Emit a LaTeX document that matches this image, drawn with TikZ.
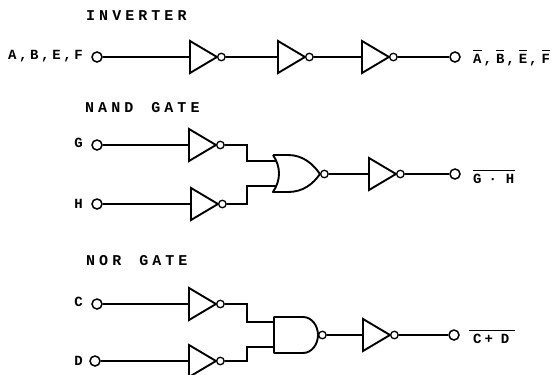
\documentclass[tikz,border=0pt]{standalone}
\usepackage{fontspec}
\usetikzlibrary{shapes.geometric,positioning}
\newfontfamily\titlefont[LetterSpace=27]{Liberation Mono}
\newfontfamily\labelfont[LetterSpace=19]{Liberation Mono}
\newcommand{\barred}[1]{\leavevmode\vbox{\hrule height 1pt\kern 3pt\hbox{#1}}}
\tikzset{
  wire/.style={line width=1.2pt},
  gateline/.style={line width=1.9pt,line join=round},
  notgate/.style={draw,line width=1.9pt,isosceles triangle,isosceles triangle stretches,shape border rotate=0,minimum height=27pt,minimum width=32pt,inner sep=0pt,outer sep=0pt,anchor=lower side},
  bubble/.style={circle,draw,line width=1.3pt,fill=white,inner sep=0pt,minimum size=7.5pt,anchor=west},
  terminal/.style={circle,draw,line width=1.5pt,inner sep=0pt,minimum size=10pt},
  title/.style={font=\titlefont\bfseries\fontsize{15}{15}\selectfont,anchor=west,inner sep=0pt},
  pinlabel/.style={font=\labelfont\bfseries\fontsize{14}{14}\selectfont,inner sep=0pt},
  outlabel/.style={pinlabel,anchor=base west}
}
\begin{document}
\begin{tikzpicture}[x=1pt,y=-1pt]
\useasboundingbox (0,0) rectangle (552,375);
\node[title] (tinv) at (86,16) {INVERTER};
\node[title] (tnand) at (85,108) {NAND\kern5pt\ GATE};
\node[title] (tnor) at (86,261) {NOR\kern5pt\ GATE};
% input and output terminals
\foreach \name/\x/\y in {ina/97/57,outa/455/57,ing/97/145,inh/97/204,outg/455/174,inc/97/304,ind/95/361,outc/454/335}
\node[terminal] (\name) at (\x,\y) {};
% inverters with their bubbles
\foreach \name/\x/\y in {a/190/57,b/278/57,e/362/57,g/189/145,h/191/204,k/369/174,c/189/304,d/189/361,m/363/335}
{
\node[notgate] (inv\name) at (\x,\y) {};
\node[bubble] (bub\name) at (inv\name.apex) {};
}
% or shape of the nand section
\coordinate (ortl) at (273,155);
\coordinate (orbl) at (273,192);
\coordinate (orin1) at (276,161);
\coordinate (orin2) at (276,186);
\coordinate (orout) at (320,174);
\draw[gateline] (ortl) -- (288,155) .. controls (303,155) and (313,164) .. (orout) .. controls (313,184) and (303,192) .. (288,192) -- (orbl) .. controls (281,180) and (281,167) .. (ortl);
\node[bubble] (buby) at (orout) {};
% and shape of the nor section
\coordinate (andtl) at (274,317);
\coordinate (andbl) at (274,353);
\coordinate (andin1) at (274,322);
\coordinate (andin2) at (274,347);
\coordinate (andout) at (318,335);
\draw[gateline] (andtl) -- (303,317) .. controls (312,317) and (318,326) .. (andout) .. controls (318,344) and (312,353) .. (303,353) -- (andbl) -- cycle;
\node[bubble] (bubz) at (andout) {};
% wires
\draw[wire] (ina) -- (inva.lower side);
\draw[wire] (buba) -- (invb.lower side);
\draw[wire] (bubb) -- (inve.lower side);
\draw[wire] (bube) -- (outa);
\draw[wire] (ing) -- (invg.lower side);
\draw[wire] (inh) -- (invh.lower side);
\coordinate (elbg) at (247,161);
\coordinate (elbh) at (247,186);
\draw[wire] (bubg) -| (elbg) -- (orin1);
\draw[wire] (bubh) -| (elbh) -- (orin2);
\draw[wire] (buby) -- (invk.lower side);
\draw[wire] (bubk) -- (outg);
\draw[wire] (inc) -- (invc.lower side);
\draw[wire] (ind) -- (invd.lower side);
\coordinate (elbc) at (247,322);
\coordinate (elbd) at (247,347);
\draw[wire] (bubc) -| (elbc) -- (andin1);
\draw[wire] (bubd) -| (elbd) -- (andin2);
\draw[wire] (bubz) -- (invm.lower side);
\draw[wire] (bubm) -- (outc);
% pin labels
\node[pinlabel,anchor=east] (la) at (83,56) {A,B,E,F};
\node[pinlabel,anchor=east] (lg) at (83,143) {G};
\node[pinlabel,anchor=east] (lh) at (83,204) {H};
\node[pinlabel,anchor=east] (lc) at (83,302) {C};
\node[pinlabel,anchor=east] (ld) at (83,361) {D};
\node[outlabel] (oa) at (473,63) {\barred{A}\kern2pt,\kern4pt\barred{B}\kern2pt,\kern4pt\barred{E}\kern2pt,\kern4pt\barred{F}};
\node[outlabel] (og) at (473,183) {\barred{G\kern7pt·\kern9pt H\kern1pt}};
\node[outlabel] (oc) at (469,343) {\barred{\kern4pt C\kern3pt+\kern8pt D\kern6pt}};
\end{tikzpicture}
\end{document}
